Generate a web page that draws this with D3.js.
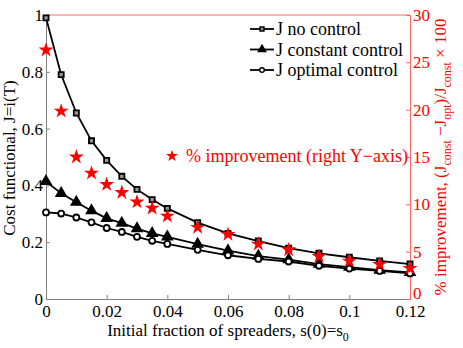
<!DOCTYPE html>
<html>
<head>
<meta charset="utf-8">
<script src="https://cdn.jsdelivr.net/npm/d3@7"></script>
<style>
  body { margin: 0; background: #fff; }
  svg text { font-family: "Liberation Serif", "Times New Roman", serif !important; }
</style>
</head>
<body>
<svg id="chart" width="463" height="348"></svg>
<script>
// initial fraction of spreaders
var s0 = [0, 0.005, 0.01, 0.015, 0.02, 0.025, 0.03, 0.035, 0.04, 0.05, 0.06, 0.07, 0.08, 0.09, 0.1, 0.11, 0.12];

var jNoControl = [0.99, 0.79, 0.655, 0.557, 0.488, 0.432, 0.386, 0.35, 0.319, 0.269, 0.231, 0.204, 0.179, 0.161, 0.147, 0.134, 0.123];
var jConstControl = [0.414, 0.372, 0.341, 0.311, 0.284, 0.267, 0.248, 0.231, 0.219, 0.193, 0.170, 0.151, 0.139, 0.123, 0.112, 0.102, 0.094];
var jOptControl = [0.305, 0.301, 0.287, 0.270, 0.250, 0.236, 0.219, 0.205, 0.194, 0.173, 0.154, 0.141, 0.132, 0.117, 0.107, 0.099, 0.090];
var improvement = [26.3, 19.85, 15.0, 13.3, 12.1, 11.25, 10.25, 9.6, 8.76, 7.57, 6.83, 5.8, 5.2, 4.5, 4.0, 3.66, 3.24];

var xTicks = [0, 0.02, 0.04, 0.06, 0.08, 0.1, 0.12];
var yLeftTicks = [0, 0.2, 0.4, 0.6, 0.8, 1];
var yRightTicks = [0, 5, 10, 15, 20, 25, 30];

var svg = d3.select("#chart");
var serif = "Liberation Serif";
var red = "#ff0000";
var axisGray = "#808080";

var x = d3.scaleLinear().domain([0, 0.12]).range([46, 410]);
var yL = d3.scaleLinear().domain([0, 1]).range([299, 15]);
var yR = d3.scaleLinear().domain([0, 30]).range([299, 15]);

// box: top in red (belongs to right axes)
svg.append("line").attr("x1", 46).attr("x2", 410).attr("y1", 15).attr("y2", 15)
  .attr("stroke", "#ff6666").attr("stroke-width", 1);

// bottom axis
var xAxis = d3.axisBottom(x).tickValues(xTicks).tickSize(-4).tickPadding(6)
  .tickFormat(function(d) { return d3.format("~g")(d); });
var gx = svg.append("g").attr("transform", "translate(0,299)").call(xAxis);
gx.attr("font-family", serif);
gx.select(".domain").attr("stroke", axisGray);
gx.selectAll(".tick line").attr("stroke", axisGray);
gx.selectAll("text").attr("font-size", 17).attr("fill", "#000");

// left axis
var yAxisL = d3.axisLeft(yL).tickValues(yLeftTicks).tickSize(-4).tickPadding(3)
  .tickFormat(function(d) { return d3.format("~g")(d); });
var gl = svg.append("g").attr("transform", "translate(46,0)").call(yAxisL);
gl.attr("font-family", serif);
gl.select(".domain").attr("stroke", axisGray);
gl.selectAll(".tick line").attr("stroke", axisGray);
gl.selectAll("text").attr("font-size", 17).attr("fill", "#000");

// right axis
var yAxisR = d3.axisRight(yR).tickValues(yRightTicks).tickSize(-4).tickPadding(3);
var gr = svg.append("g").attr("transform", "translate(410,0)").call(yAxisR);
gr.attr("font-family", serif);
gr.select(".domain").attr("stroke", "#ff6666");
gr.selectAll(".tick line").attr("stroke", "#ff6666");
gr.selectAll("text").attr("font-size", 17).attr("fill", red);
// lift the bottom "0" so it clears the 0.12 label
gr.selectAll(".tick").filter(function(d) { return d === 0; }).select("text").attr("dy", "-0.05em");

// axis titles
var xt = svg.append("text").attr("x", 228).attr("y", 336).attr("text-anchor", "middle")
  .attr("font-family", serif).attr("font-size", 17).attr("fill", "#000");
xt.append("tspan").text("Initial fraction of spreaders, s(0)=s");
xt.append("tspan").attr("font-size", 12).attr("dy", 5).text("0");

svg.append("text").attr("transform", "translate(15,158) rotate(-90)")
  .attr("text-anchor", "middle").attr("font-family", serif).attr("font-size", 17).attr("fill", "#000")
  .text("Cost functional, J=i(T)");

var rt = svg.append("text").attr("transform", "translate(446,157) rotate(-90)")
  .attr("text-anchor", "middle").attr("font-family", serif).attr("font-size", 17).attr("fill", red);
rt.append("tspan").text("% improvement, (J");
rt.append("tspan").attr("font-size", 12).attr("dy", 5).text("const");
rt.append("tspan").attr("dy", -5).text(" \u2212J");
rt.append("tspan").attr("font-size", 12).attr("dy", 5).text("opt");
rt.append("tspan").attr("dy", -5).text(")/J");
rt.append("tspan").attr("font-size", 12).attr("dy", 5).text("const");
rt.append("tspan").attr("dy", -5).text(" \u00d7 100");

// series
var series = [
  { name: "J no control", values: jNoControl, symbol: d3.symbolSquare, size: 26, fill: "#999" },
  { name: "J constant control", values: jConstControl, symbol: d3.symbolTriangle, size: 40, fill: "#000" },
  { name: "J optimal control", values: jOptControl, symbol: d3.symbolCircle, size: 28, fill: "#fff" }
];

var line = d3.line()
  .x(function(d) { return x(d[0]); })
  .y(function(d) { return yL(d[1]); });

series.forEach(function(s) {
  var pts = s0.map(function(v, i) { return [v, s.values[i]]; });
  svg.append("path").datum(pts).attr("d", line)
    .attr("fill", "none").attr("stroke", "#000").attr("stroke-width", 1.8);
  svg.selectAll(null).data(pts).enter().append("path")
    .attr("d", d3.symbol().type(s.symbol).size(s.size))
    .attr("transform", function(d) { return "translate(" + x(d[0]) + "," + yL(d[1]) + ")"; })
    .attr("fill", s.fill).attr("stroke", "#000").attr("stroke-width", 1.8);
});

// improvement stars (right axis)
svg.selectAll(null).data(s0.map(function(v, i) { return [v, improvement[i]]; })).enter()
  .append("path")
  .attr("d", d3.symbol().type(d3.symbolStar).size(70))
  .attr("transform", function(d) { return "translate(" + x(d[0]) + "," + yR(d[1]) + ")"; })
  .attr("fill", red);

// legend
var legend = svg.append("g");
series.forEach(function(s, i) {
  var ly = 29 + i * 20.5;
  legend.append("line").attr("x1", 250).attr("x2", 274).attr("y1", ly).attr("y2", ly)
    .attr("stroke", "#000").attr("stroke-width", 1.8);
  legend.append("path").attr("d", d3.symbol().type(s.symbol).size(s.size * 0.6))
    .attr("transform", "translate(262," + ly + ")")
    .attr("fill", s.fill).attr("stroke", "#000").attr("stroke-width", 1.4);
  legend.append("text").attr("x", 276).attr("y", ly + 6)
    .attr("font-family", serif).attr("font-size", 18)
    .attr("fill", "#000").text(s.name);
});

svg.append("path").attr("d", d3.symbol().type(d3.symbolStar).size(45)())
  .attr("transform", "translate(172,156)").attr("fill", red);
svg.append("text").attr("x", 186).attr("y", 162)
  .attr("font-family", serif).attr("font-size", 18).attr("fill", red)
  .text("% improvement (right Y\u2212axis)");
</script>
</body>
</html>
